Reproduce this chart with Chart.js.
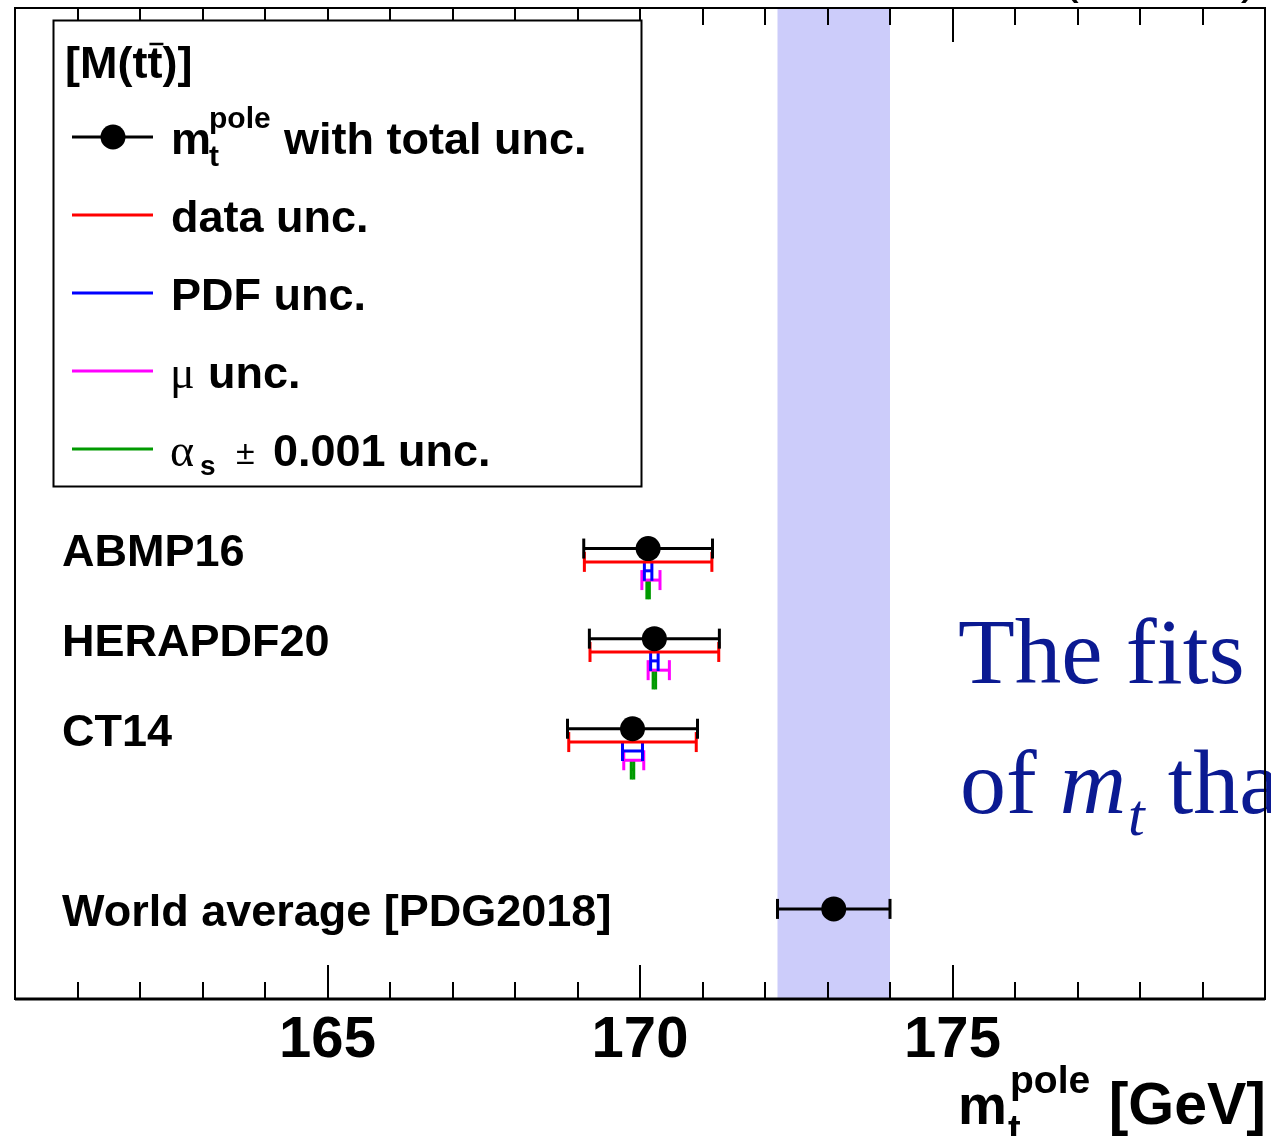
<!DOCTYPE html>
<html>
<head>
<meta charset="utf-8">
<title>Top-quark pole mass from M(tt̄)</title>
<script src="https://cdn.jsdelivr.net/npm/chart.js@4.4.1/dist/chart.umd.min.js"></script>
<style>
  html, body { margin: 0; padding: 0; background: #ffffff; }
  #wrap { width: 1271px; height: 1136px; position: relative; }
</style>
</head>
<body>
<div id="wrap"><canvas id="c" width="1271" height="1136"></canvas></div>
<script>
// ---- data ---------------------------------------------------------------
const pdfSets   = ['ABMP16', 'HERAPDF20', 'CT14'];
const mtPole    = [170.13, 170.23, 169.88];   // GeV
const totalUnc  = [1.03, 1.04, 1.04];
const dataUnc   = [1.02, 1.03, 1.02];
const pdfUnc    = [0.06, 0.06, 0.16];
const muUncDown = [0.10, 0.10, 0.14];
const muUncUp   = [0.19, 0.24, 0.18];
const alphaSUnc = [0.02, 0.02, 0.02];

const worldAvgLabel = 'World average [PDG2018]';
const worldAvg    = 173.1;
const worldAvgUnc = 0.9;

const xMin = 160, xMax = 180;
const majorTicks = [165, 170, 175];
const tickLabels = ['165', '170', '175'];

// ---- layout / style -----------------------------------------------------
const SANS  = '"Liberation Sans", Arial, Helvetica, sans-serif';
const SERIF = '"Liberation Serif", "Times New Roman", serif';
const FIRST_ROW = 6;       // vertical slot of the first PDF set
const WORLD_ROW = 10;      // slot of the world average
const COLORS = { tot: '#000000', data: '#ff0000', pdf: '#0000ff', mu: '#ff00ff', as: '#009a00' };
const SUB    = { tot: 0, data: 0.148, pdf: 0.247, mu: 0.35, as: 0.453 };

function errBar(lo, hi, y, color) {
  return {
    data: [{ x: lo, y: y }, { x: hi, y: y }],
    showLine: true,
    borderColor: color,
    borderWidth: 3,
    pointStyle: 'line',
    pointRotation: 90,
    pointRadius: 10,
    pointHoverRadius: 10,
    pointBorderColor: color,
    pointBorderWidth: 3,
    pointHoverBorderWidth: 3
  };
}

const centres = pdfSets.map((_, i) => ({ x: mtPole[i], y: FIRST_ROW + i }));
centres.push({ x: worldAvg, y: WORLD_ROW });

const datasets = [{
  data: centres,
  pointRadius: 12.5,
  pointHoverRadius: 12.5,
  pointBackgroundColor: '#000000',
  pointBorderColor: '#000000',
  pointBorderWidth: 0,
  showLine: false
}];

pdfSets.forEach((_, i) => {
  const y = FIRST_ROW + i, m = mtPole[i];
  datasets.push(errBar(m - totalUnc[i], m + totalUnc[i], y + SUB.tot, COLORS.tot));
  datasets.push(errBar(m - dataUnc[i],  m + dataUnc[i],  y + SUB.data, COLORS.data));
  datasets.push(errBar(m - pdfUnc[i],   m + pdfUnc[i],   y + SUB.pdf, COLORS.pdf));
  datasets.push(errBar(m - muUncDown[i], m + muUncUp[i], y + SUB.mu, COLORS.mu));
  datasets.push(errBar(m - alphaSUnc[i], m + alphaSUnc[i], y + SUB.as, COLORS.as));
});
datasets.push(errBar(worldAvg - worldAvgUnc, worldAvg + worldAvgUnc, WORLD_ROW, COLORS.tot));

// ---- drawing helpers ----------------------------------------------------
function txt(ctx, s, font, x, y, color, align) {
  ctx.font = font;
  ctx.fillStyle = color || '#000';
  ctx.textAlign = align || 'left';
  ctx.textBaseline = 'alphabetic';
  ctx.fillText(s, x, y);
  return ctx.measureText(s).width;
}

function drawLegend(ctx) {
  const bx = 53, by = 20, bw = 588, bh = 466;
  ctx.fillStyle = '#ffffff';
  ctx.fillRect(bx, by, bw, bh);
  ctx.strokeStyle = '#000';
  ctx.lineWidth = 2;
  ctx.strokeRect(bx + 0.5, by + 0.5, bw, bh);

  const B45 = 'bold 45px ' + SANS, B30 = 'bold 30px ' + SANS;

  // header [M(tt̄)] with a bar over the anti-top
  const hx = 65, hb = 78;
  txt(ctx, '[M(tt)]', B45, hx, hb);
  ctx.font = B45;
  const t0 = hx + ctx.measureText('[M(t').width;
  const tw = ctx.measureText('t').width;
  ctx.strokeStyle = '#000'; ctx.lineWidth = 2.5;
  ctx.beginPath(); ctx.moveTo(t0 + 2, hb - 34); ctx.lineTo(t0 + tw + 1, hb - 34); ctx.stroke();

  const lineY = i => 137 + 78 * i;
  const keyCols = [COLORS.tot, COLORS.data, COLORS.pdf, COLORS.mu, COLORS.as];
  keyCols.forEach((c, i) => {
    ctx.strokeStyle = c; ctx.lineWidth = 3;
    ctx.beginPath(); ctx.moveTo(72, lineY(i)); ctx.lineTo(153, lineY(i)); ctx.stroke();
  });
  ctx.fillStyle = '#000';
  ctx.beginPath(); ctx.arc(113, lineY(0), 12.5, 0, Math.PI * 2); ctx.fill();

  let b = lineY(0) + 17;
  txt(ctx, 'm', B45, 171, b);
  txt(ctx, 'pole', B30, 209, b - 26);
  txt(ctx, 't', B30, 209, b + 12);
  txt(ctx, 'with total unc.', B45, 284, b);

  txt(ctx, 'data unc.', B45, 171, lineY(1) + 17);
  txt(ctx, 'PDF unc.', B45, 171, lineY(2) + 17);

  b = lineY(3) + 17;
  txt(ctx, 'μ', '46px ' + SERIF, 170, b);
  txt(ctx, 'unc.', B45, 208, b);

  b = lineY(4) + 17;
  txt(ctx, 'α', '46px ' + SERIF, 170, b);
  txt(ctx, 's', 'bold 28px ' + SANS, 200, b + 9);
  txt(ctx, '±', '34px ' + SANS, 236, b - 2);
  txt(ctx, '0.001 unc.', B45, 273, b);
}

const decor = {
  id: 'decor',
  beforeDatasetsDraw(chart) {
    const { ctx, chartArea: a, scales: { x } } = chart;
    const x0 = x.getPixelForValue(worldAvg - worldAvgUnc);
    const x1 = x.getPixelForValue(worldAvg + worldAvgUnc);
    ctx.save();
    ctx.fillStyle = '#ccccfa';
    ctx.fillRect(x0, a.top, x1 - x0, a.bottom - a.top);
    ctx.restore();
  },
  afterDraw(chart) {
    const { ctx, chartArea: a, scales: { x, y } } = chart;
    ctx.save();

    // slide annotation in blue serif
    const navy = '#0b1a92';
    txt(ctx, 'The fits', '93px ' + SERIF, 958, 683, navy);
    let px = 960;
    px += txt(ctx, 'of ', '92px ' + SERIF, px, 813, navy);
    px += txt(ctx, 'm', 'italic 92px ' + SERIF, px, 813, navy);
    px += txt(ctx, 't', 'italic 60px ' + SERIF, px + 2, 835, navy) + 2;
    txt(ctx, ' tha', '92px ' + SERIF, px, 813, navy);

    // frame and inward ticks on bottom and top
    ctx.strokeStyle = '#000';
    ctx.lineWidth = 2;
    ctx.strokeRect(a.left, a.top, a.right - a.left, a.bottom - a.top);
    ctx.lineWidth = 3;
    ctx.beginPath(); ctx.moveTo(a.left, a.bottom); ctx.lineTo(a.right, a.bottom); ctx.stroke();
    ctx.lineWidth = 2;
    x.ticks.forEach(t => {
      const p = Math.round(x.getPixelForValue(t.value));
      const len = (t.value % 5 === 0) ? 34 : 17;
      ctx.beginPath();
      ctx.moveTo(p, a.bottom); ctx.lineTo(p, a.bottom - len);
      ctx.moveTo(p, a.top);    ctx.lineTo(p, a.top + len);
      ctx.stroke();
    });

    drawLegend(ctx);

    // row labels
    const B45 = 'bold 45px ' + SANS;
    pdfSets.forEach((name, i) => {
      txt(ctx, name, B45, 62, y.getPixelForValue(FIRST_ROW + i) + 17);
    });
    txt(ctx, worldAvgLabel, B45, 62, y.getPixelForValue(WORLD_ROW) + 17);

    // axis title  m_t^pole [GeV]
    txt(ctx, 'm', 'bold 55px ' + SANS, 958, 1124);
    txt(ctx, 'pole', 'bold 39px ' + SANS, 1010, 1093);
    txt(ctx, 't', 'bold 38px ' + SANS, 1008, 1142);
    txt(ctx, '[GeV]', 'bold 59px ' + SANS, 1266, 1124, '#000', 'right');

    // header text running off the top edge
    txt(ctx, '(13 TeV)', '52px ' + SANS, 1258, -8, '#000', 'right');

    ctx.restore();
  }
};

Chart.defaults.animation = false;

new Chart(document.getElementById('c'), {
  type: 'scatter',
  data: { datasets: datasets },
  options: {
    responsive: false,
    animation: false,
    events: [],
    devicePixelRatio: 1,
    layout: { autoPadding: false, padding: { left: 15, right: 6, top: 8, bottom: 0 } },
    plugins: { legend: { display: false }, tooltip: { enabled: false } },
    scales: {
      x: {
        type: 'linear',
        position: 'bottom',
        min: xMin,
        max: xMax,
        afterBuildTicks: s => {
          const t = [];
          for (let v = xMin; v <= xMax; v++) t.push({ value: v });
          s.ticks = t;
        },
        afterFit: s => { s.height = 137; s.paddingLeft = 0; s.paddingRight = 0; },
        grid: { display: false, drawTicks: false },
        border: { display: false },
        ticks: {
          autoSkip: false,
          maxRotation: 0,
          padding: 13,
          color: '#000000',
          font: { family: SANS, weight: 'bold', size: 58, lineHeight: 1 },
          callback: v => {
            const i = majorTicks.indexOf(v);
            return i < 0 ? '' : tickLabels[i];
          }
        }
      },
      y: { type: 'linear', min: 0, max: 11, reverse: true, display: false }
    }
  },
  plugins: [decor]
});
</script>
</body>
</html>
